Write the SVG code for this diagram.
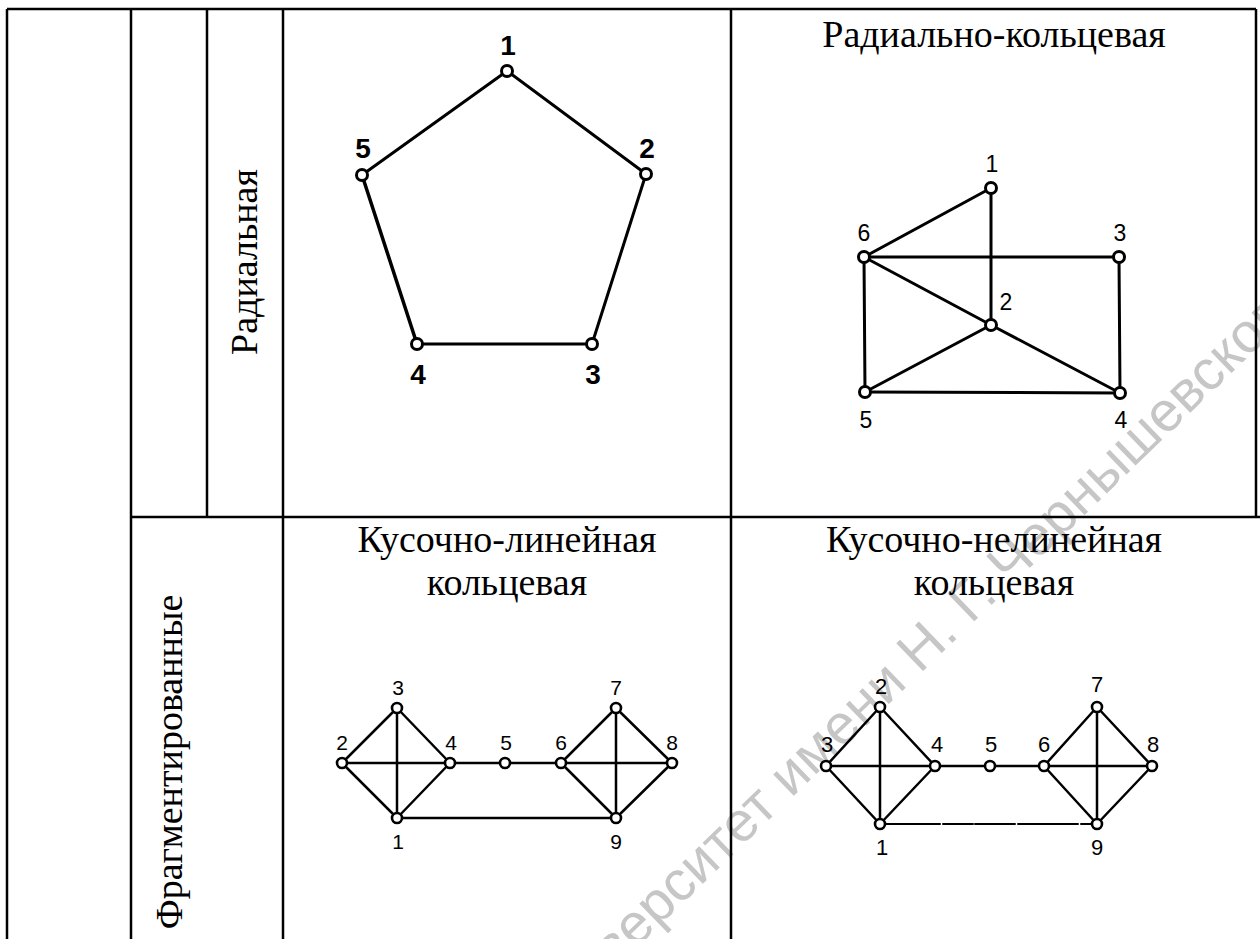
<svg xmlns="http://www.w3.org/2000/svg" width="1260" height="939" viewBox="0 0 1260 939">
<style>
.tb{stroke:#000;stroke-width:2.5;fill:none}
.hd{font-family:"Liberation Serif","Times New Roman",serif;font-size:38px;fill:#000;text-anchor:middle}
.wm{font-family:"Liberation Sans",Arial,sans-serif;font-size:56px;fill:#c6c6c6}
.e{stroke:#000;stroke-width:3;fill:none;stroke-linecap:round}
.e2{stroke:#000;stroke-width:2.5;fill:none;stroke-linecap:round}
.n{fill:#fff;stroke:#000;stroke-width:3}
.n2{fill:#fff;stroke:#000;stroke-width:2.6}
.lb{font-family:"Liberation Sans",Arial,sans-serif;fill:#000;text-anchor:middle}
.p{font-size:28px;font-weight:bold}
.r{font-size:23px}
.f{font-size:21px}
.g{font-size:22px}
</style>
<rect width="1260" height="939" fill="#fff"/>
<g id="watermark" transform="translate(1010,587) rotate(-44)">
<text class="wm" x="-15" y="0" text-anchor="end">Саратовский государственный университет имени Н. Г.</text>
<text class="wm" x="0" y="0">Чернышевского</text>
</g>
<g id="table">
<line class="tb" x1="7" y1="9" x2="1256" y2="9"/>
<line class="tb" x1="7" y1="9" x2="7" y2="939"/>
<line class="tb" x1="131" y1="9" x2="131" y2="939"/>
<line class="tb" x1="207" y1="9" x2="207" y2="517"/>
<line class="tb" x1="283" y1="9" x2="283" y2="939"/>
<line class="tb" x1="731" y1="9" x2="731" y2="939"/>
<line class="tb" x1="1256" y1="9" x2="1256" y2="517"/>
<line class="tb" x1="131" y1="517" x2="1260" y2="517"/>
</g>
<g id="headers">
<text class="hd" transform="translate(257,262) rotate(-90)">Радиальная</text>
<text class="hd" transform="translate(182,762) rotate(-90)">Фрагментированные</text>
<text class="hd" x="994" y="47">Радиально-кольцевая</text>
<text class="hd" x="507" y="552">Кусочно-линейная</text>
<text class="hd" x="507" y="595">кольцевая</text>
<text class="hd" x="994" y="552">Кусочно-нелинейная</text>
<text class="hd" x="994" y="595">кольцевая</text>
</g>
<g id="connectors">
<g id="pentagon-edges" class="e">
<line x1="507" y1="71" x2="646" y2="174"/>
<line x1="646" y1="174" x2="592" y2="344"/>
<line x1="592" y1="344" x2="417" y2="344"/>
<line x1="417" y1="344" x2="362" y2="175" stroke-width="3.5"/>
<line x1="362" y1="175" x2="507" y2="71"/>
</g>
<g id="radial-ring-edges" class="e">
<line x1="864" y1="257" x2="991" y2="188"/>
<line x1="991" y1="188" x2="991" y2="325"/>
<line x1="864" y1="257" x2="1119" y2="257"/>
<line x1="864" y1="257" x2="991" y2="325"/>
<line x1="991" y1="325" x2="1120" y2="393"/>
<line x1="864" y1="257" x2="865" y2="392"/>
<line x1="1119" y1="257" x2="1120" y2="393"/>
<line x1="865" y1="392" x2="991" y2="325"/>
<line x1="865" y1="392" x2="1120" y2="393"/>
</g>
<g id="linear-edges" class="e2">
<line x1="342" y1="763" x2="397" y2="708"/>
<line x1="397" y1="708" x2="450" y2="763"/>
<line x1="342" y1="763" x2="450" y2="763"/>
<line x1="397" y1="708" x2="397" y2="818"/>
<line x1="342" y1="763" x2="397" y2="818"/>
<line x1="450" y1="763" x2="397" y2="818"/>
<line x1="450" y1="763" x2="561" y2="763"/>
<line x1="561" y1="763" x2="616" y2="708"/>
<line x1="616" y1="708" x2="672" y2="763"/>
<line x1="561" y1="763" x2="672" y2="763"/>
<line x1="616" y1="708" x2="616" y2="818"/>
<line x1="561" y1="763" x2="616" y2="818"/>
<line x1="672" y1="763" x2="616" y2="818"/>
<line x1="397" y1="818" x2="616" y2="818"/>
</g>
<g id="nonlinear-edges" class="e2">
<line x1="826" y1="766" x2="880" y2="707"/>
<line x1="880" y1="707" x2="935" y2="766"/>
<line x1="826" y1="766" x2="935" y2="766"/>
<line x1="880" y1="707" x2="880" y2="824"/>
<line x1="826" y1="766" x2="880" y2="824"/>
<line x1="935" y1="766" x2="880" y2="824"/>
<line x1="935" y1="766" x2="1044" y2="766"/>
<line x1="1044" y1="766" x2="1097" y2="707"/>
<line x1="1097" y1="707" x2="1152" y2="766"/>
<line x1="1044" y1="766" x2="1152" y2="766"/>
<line x1="1097" y1="707" x2="1097" y2="824"/>
<line x1="1044" y1="766" x2="1097" y2="824"/>
<line x1="1152" y1="766" x2="1097" y2="824"/>
<line x1="880" y1="824" x2="1097" y2="824" stroke-width="2" stroke-dasharray="60 3 30 2 40 3"/>
</g>
</g>
<g id="pentagon">
<g id="p1"><circle class="n" cx="507" cy="71" r="5.5"/><text class="lb p" x="508" y="55">1</text></g>
<g id="p2"><circle class="n" cx="646" cy="174" r="5.5"/><text class="lb p" x="647" y="158">2</text></g>
<g id="p3"><circle class="n" cx="592" cy="344" r="5.5"/><text class="lb p" x="593" y="384">3</text></g>
<g id="p4"><circle class="n" cx="417" cy="344" r="5.5"/><text class="lb p" x="418" y="384">4</text></g>
<g id="p5"><circle class="n" cx="362" cy="175" r="5.5"/><text class="lb p" x="363" y="158">5</text></g>
</g>
<g id="radial-ring">
<g id="r1"><circle class="n" cx="991" cy="188" r="5.5"/><text class="lb r" x="992" y="172">1</text></g>
<g id="r2"><circle class="n" cx="991" cy="325" r="5.5"/><text class="lb r" x="1006" y="310">2</text></g>
<g id="r3"><circle class="n" cx="1119" cy="257" r="5.5"/><text class="lb r" x="1120" y="241">3</text></g>
<g id="r4"><circle class="n" cx="1120" cy="393" r="5.5"/><text class="lb r" x="1121" y="428">4</text></g>
<g id="r5"><circle class="n" cx="865" cy="392" r="5.5"/><text class="lb r" x="866" y="428">5</text></g>
<g id="r6"><circle class="n" cx="864" cy="257" r="5.5"/><text class="lb r" x="864" y="241">6</text></g>
</g>
<g id="linear">
<g id="l1"><circle class="n2" cx="397" cy="818" r="5"/><text class="lb f" x="398" y="849">1</text></g>
<g id="l2"><circle class="n2" cx="342" cy="763" r="5"/><text class="lb f" x="342" y="750">2</text></g>
<g id="l3"><circle class="n2" cx="397" cy="708" r="5"/><text class="lb f" x="398" y="695">3</text></g>
<g id="l4"><circle class="n2" cx="450" cy="763" r="5"/><text class="lb f" x="451" y="750">4</text></g>
<g id="l5"><circle class="n2" cx="505" cy="763" r="5"/><text class="lb f" x="506" y="750">5</text></g>
<g id="l6"><circle class="n2" cx="561" cy="763" r="5"/><text class="lb f" x="561" y="750">6</text></g>
<g id="l7"><circle class="n2" cx="616" cy="708" r="5"/><text class="lb f" x="616" y="695">7</text></g>
<g id="l8"><circle class="n2" cx="672" cy="763" r="5"/><text class="lb f" x="672" y="750">8</text></g>
<g id="l9"><circle class="n2" cx="616" cy="818" r="5"/><text class="lb f" x="616" y="849">9</text></g>
</g>
<g id="nonlinear">
<g id="m1"><circle class="n2" cx="880" cy="824" r="5"/><text class="lb g" x="882" y="855">1</text></g>
<g id="m2"><circle class="n2" cx="880" cy="707" r="5"/><text class="lb g" x="881" y="694">2</text></g>
<g id="m3"><circle class="n2" cx="826" cy="766" r="5"/><text class="lb g" x="827" y="752">3</text></g>
<g id="m4"><circle class="n2" cx="935" cy="766" r="5"/><text class="lb g" x="937" y="752">4</text></g>
<g id="m5"><circle class="n2" cx="990" cy="766" r="5"/><text class="lb g" x="991" y="752">5</text></g>
<g id="m6"><circle class="n2" cx="1044" cy="766" r="5"/><text class="lb g" x="1044" y="752">6</text></g>
<g id="m7"><circle class="n2" cx="1097" cy="707" r="5"/><text class="lb g" x="1097" y="692">7</text></g>
<g id="m8"><circle class="n2" cx="1152" cy="766" r="5"/><text class="lb g" x="1153" y="752">8</text></g>
<g id="m9"><circle class="n2" cx="1097" cy="824" r="5"/><text class="lb g" x="1097" y="855">9</text></g>
</g>
</svg>
